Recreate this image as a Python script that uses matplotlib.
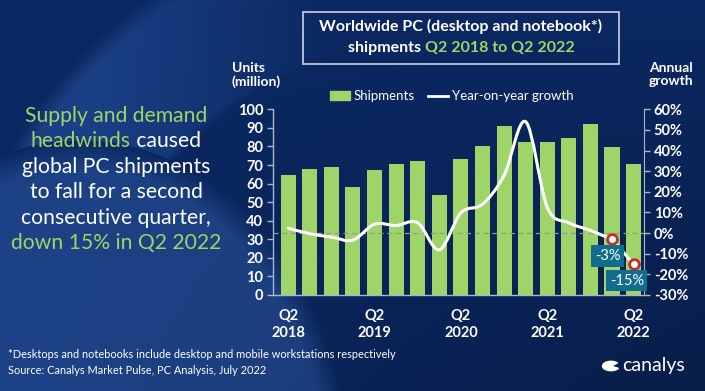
import numpy as np
import matplotlib
matplotlib.use("Agg")
import matplotlib.pyplot as plt
from matplotlib.path import Path
from matplotlib.patches import PathPatch, Rectangle, Wedge
from matplotlib.lines import Line2D

# ---- data ----
quarters = ["Q2 2018", "Q3 2018", "Q4 2018", "Q1 2019", "Q2 2019", "Q3 2019", "Q4 2019",
            "Q1 2020", "Q2 2020", "Q3 2020", "Q4 2020", "Q1 2021", "Q2 2021", "Q3 2021",
            "Q4 2021", "Q1 2022", "Q2 2022"]
shipments = [64.4, 67.9, 68.8, 58.4, 67.2, 70.4, 72.2, 53.8, 73.1, 80.0, 91.2,
             82.4, 82.6, 84.4, 92.0, 79.9, 70.4]
growth = [2.4, -0.3, -1.9, -3.4, 4.3, 3.7, 5.0, -8.1, 9.8, 14.0, 28.0,
          54.0, 12.5, 5.0, 1.3, -3.0, -15.0]
tick_idx = [0, 4, 8, 12, 16]
tick_labels = ["Q2\n2018", "Q2\n2019", "Q2\n2020", "Q2\n2021", "Q2\n2022"]
callouts = {15: "-3%", 16: "-15%"}

GREEN = "#9fd468"
FONT = "Lato"
W, H = 705, 391

fig = plt.figure(figsize=(W / 100, H / 100), dpi=100)

# ---- background ----
bg = fig.add_axes([0, 0, 1, 1], zorder=-10)
yy, xx = np.mgrid[0:H, 0:W]
base = np.array([11, 40, 98]) / 255.0
img = np.ones((H, W, 3)) * base
# darker towards bottom right
shade = 0.25 * (xx / W) * (yy / H)
img *= (1 - shade)[..., None]
# big lighter circle lower left
e = ((xx - 80) / 270.0) ** 2 + ((yy - 480) / 340.0) ** 2
soft = np.clip((1.0 - e) * 6, 0, 1)
img += soft[..., None] * (np.array([18, 26, 36]) / 255.0)
# swoosh band top left
r = np.hypot(xx - 420, yy - 380)
band = np.clip((r - 330) / 8, 0, 1) * np.clip((470 - r) / 20, 0, 1) * (e > 1.0)
band *= np.clip(1 - xx / 330.0, 0, 1) * 1.4
img += np.clip(band, 0, 1)[..., None] * (np.array([16, 24, 36]) / 255.0)
bg.imshow(np.clip(img, 0, 1), aspect="auto", extent=[0, W, H, 0])
bg.set_xlim(0, W)
bg.set_ylim(H, 0)
bg.axis("off")

# ---- main axes ----
ax = fig.add_axes([273 / W, 1 - 295 / H, (644 - 273) / W, (295 - 109.3) / H])
ax.set_facecolor("none")
x = np.arange(len(quarters))
ax.bar(x, shipments, width=0.7, color=GREEN, zorder=2, label="Shipments")
ax.set_ylim(0, 100)
ax.set_xlim(-0.7, 16.48)
ax.set_yticks(range(0, 101, 10))
ax.set_xticks(tick_idx)
ax.set_xticklabels(tick_labels, linespacing=1.3)

spine_c = "#a9b6c8"
for s in ["top", "right"]:
    ax.spines[s].set_visible(False)
for s in ["left", "bottom"]:
    ax.spines[s].set_color(spine_c)
    ax.spines[s].set_linewidth(1.0)
ax.tick_params(axis="y", colors=spine_c, length=4, width=1, labelcolor="white",
               labelsize=10.5, pad=3)
ax.tick_params(axis="x", length=0, labelcolor="white", labelsize=10.5, pad=10)
for lab in ax.get_xticklabels() + ax.get_yticklabels():
    lab.set_fontfamily(FONT)
    lab.set_fontweight("bold")

ax2 = ax.twinx()
ax2.set_ylim(-30, 60)
ax2.set_yticks(range(-30, 61, 10))
ax2.set_yticklabels([f"{v}%" for v in range(-30, 61, 10)])
for s in ["top", "left", "bottom"]:
    ax2.spines[s].set_visible(False)
ax2.spines["right"].set_color(spine_c)
ax2.tick_params(axis="y", colors=spine_c, length=4, width=1, labelcolor="white",
                labelsize=10.5, pad=3)
for lab in ax2.get_yticklabels():
    lab.set_fontfamily(FONT)
    lab.set_fontweight("bold")

ax2.axhline(0, color="#8f9b8f", lw=0.9, ls=(0, (4, 3)), zorder=1)

# smooth growth curve (Catmull-Rom as cubic Bezier)
pts = np.column_stack([x, growth]).astype(float)
ext = np.vstack([pts[0], pts, pts[-1]])
verts = [tuple(pts[0])]
codes = [Path.MOVETO]
for i in range(len(pts) - 1):
    p0, p1, p2, p3 = ext[i], ext[i + 1], ext[i + 2], ext[i + 3]
    if i >= 14:
        c1, c2 = p1, p2
    else:
        c1 = p1 + (p2 - p0) / 6.0
        c2 = p2 - (p3 - p1) / 6.0
    verts += [tuple(c1), tuple(c2), tuple(p2)]
    codes += [Path.CURVE4] * 3
ax2.add_patch(PathPatch(Path(verts, codes), fill=False, edgecolor="white", lw=2.2,
                        zorder=3, capstyle="round"))

for i, txt in callouts.items():
    ax2.plot(x[i], growth[i], "o", ms=7, mfc="white", mec="#c4302b", mew=2, zorder=5)
    dx, dy = (-3, -12) if i == 15 else (-5, -12)
    ax2.annotate(txt, (x[i], growth[i]), xytext=(dx, dy), textcoords="offset points",
                 ha="center", va="center", color="white", fontsize=10.5, family=FONT,
                 bbox=dict(boxstyle="square,pad=0.25", fc="#106d8e", ec="none"),
                 zorder=6)

handles = [Rectangle((0, 0), 1, 1, color=GREEN),
           Line2D([0], [0], color="white", lw=2)]
leg = ax.legend(handles, ["Shipments", "Year-on-year growth"], ncol=2,
                loc="center", bbox_to_anchor=(452 / W, 1 - 96 / H),
                bbox_transform=fig.transFigure, frameon=False,
                handlelength=1.5, handleheight=0.6, columnspacing=1.0,
                handletextpad=0.3, prop={"family": FONT, "size": 9.5})
for t in leg.get_texts():
    t.set_color("white")

# axis titles
fig.text(232 / W, 1 - 62 / H, "Units\n(million)", color="white", fontsize=10,
         family=FONT, fontweight="bold", ha="left", va="top", linespacing=1.1)
fig.text(671 / W, 1 - 62 / H, "Annual\ngrowth", color="white", fontsize=10,
         family=FONT, fontweight="bold", ha="center", va="top", linespacing=1.1)

# title box
fig.patches.append(Rectangle((303 / W, 1 - 64 / H), (619 - 303) / W, 52 / H,
                             transform=fig.transFigure, fill=False,
                             ec="#c9d3e0", lw=1.2))
fig.text(461 / W, 1 - 26 / H, "Worldwide PC (desktop and notebook*)", color="white",
         fontsize=11.5, family=FONT, fontweight="bold", ha="center", va="center")

fig.canvas.draw()
rend = fig.canvas.get_renderer()


def two_tone(cx, cy, parts, **kw):
    """centre a line made of differently coloured pieces"""
    probe = fig.text(0, 0, "".join(p for p, _ in parts), **kw)
    wpx = probe.get_window_extent(rend).width
    probe.remove()
    xl = cx - wpx / 2
    for p, c in parts:
        t = fig.text(xl / W, 1 - cy / H, p, color=c, ha="left", va="center", **kw)
        xl += t.get_window_extent(rend).width


two_tone(461, 48, [("shipments ", "white"), ("Q2 2018 to Q2 2022", GREEN)],
         fontsize=11.5, family=FONT, fontweight="bold")

# left commentary
lines = [
    [("Supply and demand", GREEN)],
    [("headwinds", GREEN), (" caused", "white")],
    [("global PC shipments", "white")],
    [("to fall for a second", "white")],
    [("consecutive quarter,", "white")],
    [("down 15% in Q2 2022", GREEN)],
]
for k, parts in enumerate(lines):
    two_tone(116, 116 + k * 25.4, parts, fontsize=15.2, family=FONT)

# footnotes
fig.text(8 / W, 1 - 354 / H,
         "*Desktops and notebooks include desktop and mobile workstations respectively",
         color="white", fontsize=7.9, family=FONT, ha="left", va="center")
fig.text(8 / W, 1 - 370 / H, "Source: Canalys Market Pulse, PC Analysis, July 2022",
         color="white", fontsize=7.9, family=FONT, ha="left", va="center")

# logo
fig.patches.append(Wedge((611 / W, 1 - 366 / H), 0.012, 40, 330,
                         transform=fig.transFigure, color="white"))
fig.text(622 / W, 1 - 365 / H, "canalys", color="white", fontsize=14, family=FONT,
         ha="left", va="center")

fig.savefig("out.png", dpi=100)
